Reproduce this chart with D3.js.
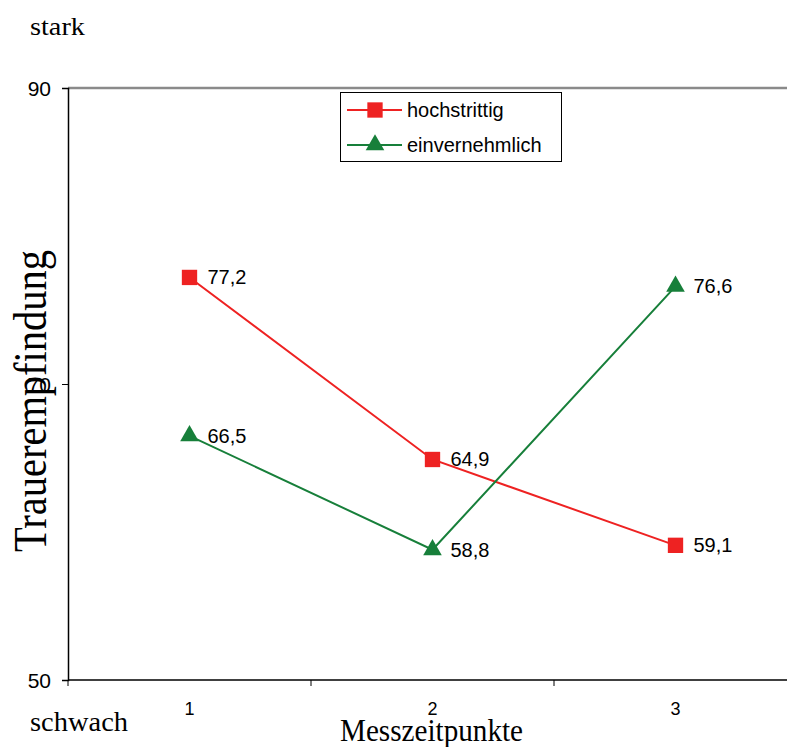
<!DOCTYPE html>
<html>
<head>
<meta charset="utf-8">
<script src="https://cdn.jsdelivr.net/npm/d3@7"></script>
<style>
  html, body { margin: 0; padding: 0; background: #fff; }
  svg { display: block; }
</style>
</head>
<body>
<svg id="chart" width="787" height="747"></svg>
<script>
// Messzeitpunkte und Mittelwerte der Trauerempfindung
const categories = ["1", "2", "3"];
const hochstrittig = [77.2, 64.9, 59.1];
const einvernehmlich = [66.5, 58.8, 76.6];
const yTicks = [50, 70, 90];
const seriesNames = ["hochstrittig", "einvernehmlich"];

const fmt = v => d3.format(".1f")(v).replace(".", ",");

const svg = d3.select("#chart");
const plotLeft = 68, plotRight = 797, plotTop = 88, plotBottom = 680;

const x = d3.scaleBand().domain(categories).range([plotLeft, plotRight]);
const y = d3.scaleLinear().domain([50, 90]).range([plotBottom, plotTop]);
const cx = c => x(c) + x.bandwidth() / 2;

const red = "#ee2222", green = "#177f3a";
const sans = "Liberation Sans, Arial, sans-serif";
const serif = "Liberation Serif, Times New Roman, serif";

// obere Begrenzung der Zeichenfläche
svg.append("line")
  .attr("x1", plotLeft).attr("x2", 787).attr("y1", plotTop).attr("y2", plotTop)
  .attr("stroke", "#8a8a8a").attr("stroke-width", 2.5);

// y-Achse
const yAxis = svg.append("g")
  .attr("transform", `translate(${plotLeft},0)`)
  .call(d3.axisLeft(y).tickValues(yTicks).tickSize(6).tickPadding(11));
yAxis.select(".domain").attr("stroke", "#000").attr("stroke-width", 1.5);
yAxis.selectAll(".tick line").attr("stroke", "#000");
yAxis.selectAll(".tick text")
  .attr("font-family", sans)
  .attr("font-size", 21).attr("fill", "#000").attr("dy", "0.35em");

// x-Achse: Trennstriche zwischen den Messzeitpunkten
const xAxisG = svg.append("g").attr("transform", `translate(0,${plotBottom})`);
xAxisG.append("line")
  .attr("x1", plotLeft).attr("x2", 787).attr("y1", 0).attr("y2", 0)
  .attr("stroke", "#000").attr("stroke-width", 1.5);
const bounds = categories.map(c => x(c)).concat([plotRight]);
xAxisG.selectAll("line.sep").data(bounds).join("line")
  .attr("class", "sep")
  .attr("x1", d => d).attr("x2", d => d).attr("y1", 0).attr("y2", 6)
  .attr("stroke", "#000").attr("stroke-width", 1);
xAxisG.selectAll("text.cat").data(categories).join("text")
  .attr("class", "cat")
  .attr("x", d => cx(d)).attr("y", 35)
  .attr("text-anchor", "middle")
  .attr("font-family", sans)
  .attr("font-size", 18).attr("fill", "#000")
  .text(d => d);

// Achsentitel und Skalenbeschriftungen
svg.append("text").attr("x", 30).attr("y", 35)
  .attr("font-family", serif).attr("font-size", 25)
  .attr("textLength", 55).attr("lengthAdjust", "spacingAndGlyphs")
  .text("stark");
svg.append("text").attr("x", 30).attr("y", 731)
  .attr("font-family", serif).attr("font-size", 28)
  .attr("textLength", 98).attr("lengthAdjust", "spacingAndGlyphs")
  .text("schwach");
svg.append("text").attr("x", 340).attr("y", 741)
  .attr("font-family", serif).attr("font-size", 32)
  .attr("textLength", 183).attr("lengthAdjust", "spacingAndGlyphs")
  .text("Messzeitpunkte");
svg.append("text")
  .attr("transform", "translate(46,552) rotate(-90)")
  .attr("font-family", serif).attr("font-size", 46)
  .attr("textLength", 302).attr("lengthAdjust", "spacingAndGlyphs")
  .text("Trauerempfindung");

// Linien und Markierungen
const line = d3.line().x((d, i) => cx(categories[i])).y(d => y(d));
const series = [
  { name: seriesNames[0], values: hochstrittig, color: red, symbol: d3.symbolSquare, size: 235 },
  { name: seriesNames[1], values: einvernehmlich, color: green, symbol: d3.symbolTriangle, size: 150 }
];

series.forEach(s => {
  svg.append("path").datum(s.values)
    .attr("d", line).attr("fill", "none")
    .attr("stroke", s.color).attr("stroke-width", 2);
  svg.selectAll(null).data(s.values).join("path")
    .attr("transform", (d, i) => `translate(${cx(categories[i])},${y(d)})`)
    .attr("d", d3.symbol().type(s.symbol).size(s.size))
    .attr("fill", s.color);
  svg.selectAll(null).data(s.values).join("text")
    .attr("x", (d, i) => cx(categories[i]) + 18)
    .attr("y", d => y(d) + 7)
    .attr("font-family", sans)
    .attr("font-size", 20).attr("fill", "#000")
    .text(d => fmt(d));
});

// Legende
const lg = svg.append("g");
lg.append("rect").attr("x", 340.5).attr("y", 92.5).attr("width", 221).attr("height", 69)
  .attr("fill", "#fff").attr("stroke", "#000").attr("stroke-width", 1);
series.forEach((s, i) => {
  const ly = 110 + i * 35;
  lg.append("line").attr("x1", 347).attr("x2", 402).attr("y1", ly).attr("y2", ly)
    .attr("stroke", s.color).attr("stroke-width", 2);
  lg.append("path").attr("transform", `translate(375,${ly})`)
    .attr("d", d3.symbol().type(s.symbol).size(s.size))
    .attr("fill", s.color);
  lg.append("text").attr("x", 407).attr("y", ly + 7)
    .attr("font-family", sans)
    .attr("font-size", 20).attr("fill", "#000")
    .text(s.name);
});
</script>
</body>
</html>
